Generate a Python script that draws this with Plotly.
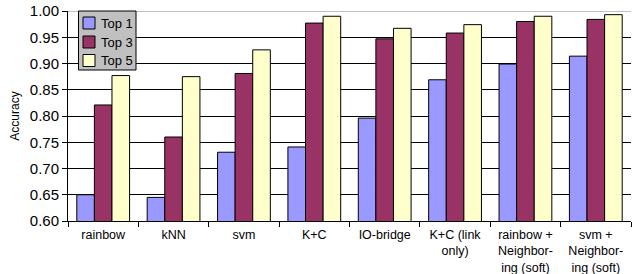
import plotly.graph_objects as go

categories = ["rainbow", "kNN", "svm", "K+C", "IO-bridge", "K+C (link<br>only)",
              "rainbow +<br>Neighbor-<br>ing (soft)", "svm +<br>Neighbor-<br>ing (soft)"]
top1 = [0.650, 0.645, 0.731, 0.741, 0.796, 0.869, 0.899, 0.914]
top3 = [0.821, 0.760, 0.881, 0.977, 0.947, 0.958, 0.980, 0.984]
top5 = [0.877, 0.875, 0.926, 0.990, 0.967, 0.974, 0.990, 0.993]
series_names = ["Top 1", "Top 3", "Top 5"]
series_colors = ["#9999FF", "#993366", "#FFFFCC"]
y_ticks = [0.60, 0.65, 0.70, 0.75, 0.80, 0.85, 0.90, 0.95, 1.00]

font = "Liberation Sans, Arial, sans-serif"
W, H = 641, 274
L, R, T, B = 68, 10, 11, 53
PW, PH = W - L - R, H - T - B

def px(x):
    return (x - L) / PW

def py(y):
    return (H - B - y) / PH

fig = go.Figure()
for name, vals, col in zip(series_names, [top1, top3, top5], series_colors):
    fig.add_trace(go.Bar(x=categories, y=vals, name=name, showlegend=False,
                         marker=dict(color=col, line=dict(color="#000000", width=1))))

fig.update_layout(
    width=W, height=H,
    margin=dict(l=L, r=R, t=T, b=B, autoexpand=False),
    paper_bgcolor="white", plot_bgcolor="white",
    barmode="group", bargap=0.25, bargroupgap=0,
    font=dict(family=font, color="black"),
)
fig.update_xaxes(showline=True, linecolor="black", linewidth=1, ticks="outside", tickson="boundaries",
                 ticklen=5, tickcolor="black", tickfont=dict(size=12.5, family=font), showgrid=False,
                 automargin=False, ticklabelstandoff=2)
fig.update_yaxes(range=[0.6, 1.0], tickvals=y_ticks, tickformat=".2f", showline=True, linecolor="black",
                 linewidth=1, ticks="outside", ticklen=5, tickcolor="black", tickfont=dict(size=15, family=font),
                 showgrid=True, gridcolor="black", gridwidth=1, zeroline=False, automargin=False,
                 title=dict(text="Accuracy", font=dict(size=12, family=font), standoff=7))
fig.add_shape(type="line", xref="paper", yref="y", x0=0, x1=1, y0=1.0, y1=1.0, line=dict(color="#808080", width=1))

# manual legend box
fig.add_shape(type="rect", xref="paper", yref="paper", x0=px(78.5), x1=px(136), y0=py(70), y1=py(11),
              fillcolor="#C0C0C0", line=dict(color="#000000", width=1))
centers = [23, 42, 60.5]
for name, col, cy in zip(series_names, series_colors, centers):
    fig.add_shape(type="rect", xref="paper", yref="paper", x0=px(83), x1=px(95), y0=py(cy + 6), y1=py(cy - 6),
                  fillcolor=col, line=dict(color="#000000", width=1))
    fig.add_annotation(text=name, xref="paper", yref="paper", x=px(99), y=py(cy), xanchor="left",
                       yanchor="middle", showarrow=False, font=dict(size=13, family=font, color="black"))
fig.write_html("out.html", config={"displayModeBar": False},
               post_script="document.body.style.margin='0';document.body.style.overflow='hidden';")
